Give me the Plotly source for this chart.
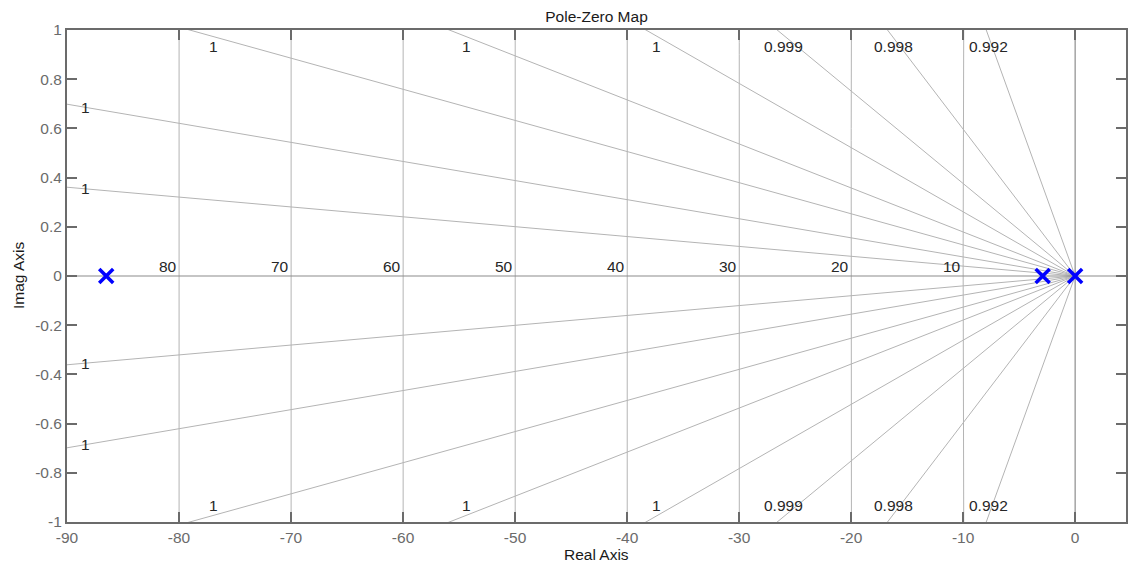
import numpy as np
import plotly.graph_objects as go

# ---- data ----
pole_re = [-86.5, -2.9, 0.0]
pole_im = [0.0, 0.0, 0.0]

# damping ratios of the grid rays (upper/lower half-plane)
zeta_values = [0.99999196, 0.99996989, 0.99992000, 0.99983984,
               0.99965957, 0.99929397, 0.99822273, 0.99215500]
# natural frequencies of the grid circles
wn_values = [10, 20, 30, 40, 50, 60, 70, 80]

x_ticks = [-90, -80, -70, -60, -50, -40, -30, -20, -10, 0]
y_ticks = [-1, -0.8, -0.6, -0.4, -0.2, 0, 0.2, 0.4, 0.6, 0.8, 1]
y_tick_text = ["-1", "-0.8", "-0.6", "-0.4", "-0.2", "0", "0.2", "0.4", "0.6", "0.8", "1"]
x_tick_text = ["-90", "-80", "-70", "-60", "-50", "-40", "-30", "-20", "-10", "0"]

# label placement for damping labels
left_label_x = -88.33          # rays exiting the left edge (first two)
edge_label_x = [-76.9, -54.3, -37.35, -26.0, -16.2, -7.72]  # rays exiting top/bottom
edge_label_y = 0.933

FONT = "Liberation Sans, Arial, sans-serif"
GRID = "#b4b4b4"
AXC = "#6b6b6b"
LBL = "#262626"
FS = 15.5

fig = go.Figure()

# damping rays
for z in zeta_values:
    s = np.sqrt(1 - z * z) / z
    for sign in (1, -1):
        fig.add_trace(go.Scatter(x=[0, -300], y=[0, sign * 300 * s], mode="lines",
                                 line=dict(color=GRID, width=1), hoverinfo="skip",
                                 showlegend=False))

# natural frequency circles (nearly vertical at this scale)
yy = np.linspace(-1.05, 1.05, 43)
for wn in wn_values:
    fig.add_trace(go.Scatter(x=-np.sqrt(wn ** 2 - yy ** 2), y=yy, mode="lines",
                             line=dict(color=GRID, width=1), hoverinfo="skip",
                             showlegend=False))

# real and imaginary axis lines
fig.add_trace(go.Scatter(x=[-100, 10], y=[0, 0], mode="lines",
                         line=dict(color="#8c8c8c", width=1.2), hoverinfo="skip",
                         showlegend=False))
fig.add_trace(go.Scatter(x=[0, 0], y=[-1.1, 1.1], mode="lines",
                         line=dict(color="#8c8c8c", width=1.2), hoverinfo="skip",
                         showlegend=False))

# poles
fig.add_trace(go.Scatter(x=pole_re, y=pole_im, mode="markers",
                         marker=dict(symbol="x-thin", size=14, color="#0000ff",
                                     line=dict(width=3.5, color="#0000ff")),
                         showlegend=False))

annotations = []
# damping labels
for i, z in enumerate(zeta_values):
    s = np.sqrt(1 - z * z) / z
    txt = f"{z:.3g}"
    if i < 2:
        for sign in (1, -1):
            annotations.append(dict(x=left_label_x, y=sign * s * (-left_label_x),
                                    text=txt, showarrow=False, xanchor="center",
                                    yanchor="middle", font=dict(family=FONT, size=FS, color=LBL)))
    else:
        for sign in (1, -1):
            annotations.append(dict(x=edge_label_x[i - 2], y=sign * edge_label_y,
                                    text=txt, showarrow=False, xanchor="center",
                                    yanchor="middle", font=dict(family=FONT, size=FS, color=LBL)))
# wn labels
for wn in wn_values:
    annotations.append(dict(x=-wn, y=0, text=str(wn), showarrow=False,
                            xanchor="right", yanchor="bottom", xshift=0, yshift=-1,
                            font=dict(family=FONT, size=FS, color=LBL)))
# axis titles
annotations.append(dict(x=0.5, y=0, xref="paper", yref="paper", text="Real Axis",
                        showarrow=False, xanchor="center", yanchor="top", yshift=-22,
                        font=dict(family=FONT, size=FS, color="#1a1a1a")))
annotations.append(dict(x=0, y=0.5, xref="paper", yref="paper", text="Imag Axis",
                        showarrow=False, xanchor="center", yanchor="middle", xshift=-49,
                        textangle=-90, font=dict(family=FONT, size=FS, color="#1a1a1a")))

fig.update_layout(
    width=1130, height=564,
    margin=dict(l=67, r=2, t=30, b=42),
    paper_bgcolor="white", plot_bgcolor="white",
    title=dict(text="Pole-Zero Map", x=0.5, xref="paper", xanchor="center",
               y=1 - 17 / 564, yref="container", yanchor="middle",
               font=dict(family=FONT, size=FS, color="#1a1a1a")),
    annotations=annotations,
    showlegend=False,
)
fig.update_xaxes(range=[-90, 4.54], tickvals=x_ticks, ticktext=x_tick_text,
                 showgrid=False, zeroline=False, showline=True, linewidth=2,
                 linecolor=AXC, mirror="allticks", ticks="inside", ticklen=10,
                 tickwidth=2, tickcolor=AXC,
                 tickfont=dict(family=FONT, size=FS, color=AXC))
fig.update_yaxes(range=[-1, 1], tickvals=y_ticks, ticktext=y_tick_text,
                 showgrid=False, zeroline=False, showline=True, linewidth=2,
                 linecolor=AXC, mirror="allticks", ticks="inside", ticklen=10,
                 tickwidth=2, tickcolor=AXC,
                 tickfont=dict(family=FONT, size=FS, color=AXC))

fig.write_html("out.html")
